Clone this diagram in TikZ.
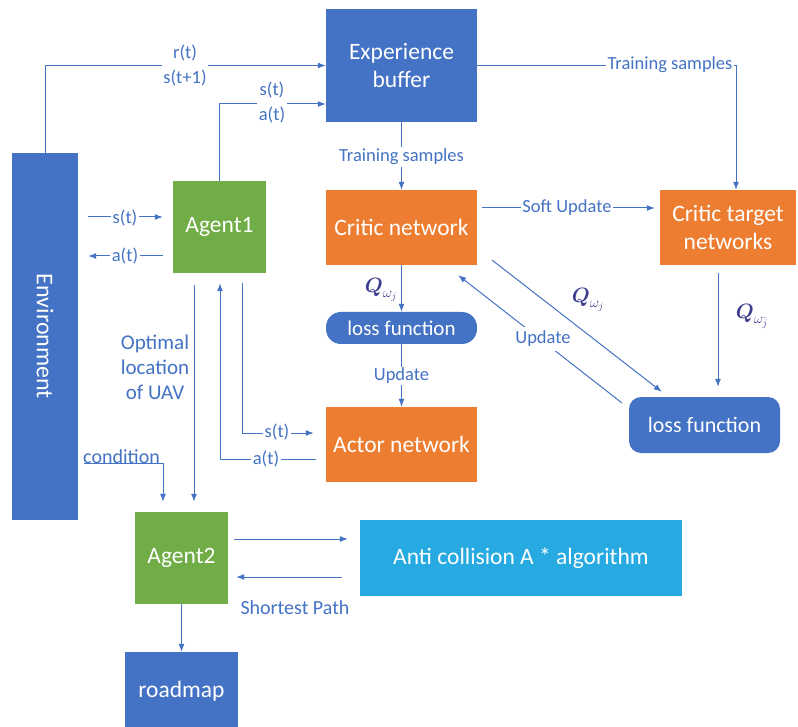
\documentclass[tikz,border=0pt]{standalone}
\usepackage{amsmath}
\usepackage{fontspec}
\setmainfont{Carlito}
\usetikzlibrary{arrows.meta,calc}
\definecolor{dblue}{HTML}{4472C4}
\definecolor{agreen}{HTML}{70AD47}
\definecolor{aorange}{HTML}{ED7D31}
\definecolor{lblue}{HTML}{27AAE1}
\definecolor{qcol}{HTML}{3D3D8F}
\tikzset{
  box/.style={inner sep=0pt, text=white, font=\fontsize{23.5}{28}\selectfont, align=center},
  bluebox/.style={box, fill=dblue},
  greenbox/.style={box, fill=agreen},
  orangebox/.style={box, fill=aorange},
  roundbox/.style={box, fill=dblue, rounded corners=12pt},
  conn/.style={draw=dblue, line width=1pt},
  arr/.style={conn, -{Latex[length=8pt,width=6pt]}},
  lbl/.style={text=dblue, font=\fontsize{18.5}{25}\selectfont, inner sep=1.5pt, align=center},
  wlbl/.style={lbl, fill=white},
  qlbl/.style={text=qcol, font=\fontsize{20}{22}\selectfont, inner sep=1pt}
}
\begin{document}
\begin{tikzpicture}[x=1pt,y=-1pt]
\useasboundingbox (0,0) rectangle (798,727);
% nodes
\node[bluebox, minimum width=151pt, minimum height=113pt] (buf) at (401.5,65.5) {Experience\\buffer};
\node[bluebox, minimum width=66pt, minimum height=367pt] (env) at (45,336.5) {};
\node[text=white, font=\fontsize{24}{29}\selectfont, rotate=-90] (envtxt) at (env.center) {Environment};
\node[greenbox, minimum width=93pt, minimum height=92pt] (agent1) at (219.5,227) {Agent1};
\node[orangebox, minimum width=151pt, minimum height=75pt] (critic) at (401.5,227.5) {Critic network};
\node[orangebox, minimum width=136pt, minimum height=75pt] (ctgt) at (728,227.5) {Critic target\\networks};
\node[roundbox, minimum width=151pt, minimum height=32pt, rounded corners=15pt, font=\fontsize{21}{24}\selectfont] (loss1) at (401.5,328) {loss function};
\node[orangebox, minimum width=151pt, minimum height=75pt] (actor) at (401.5,444.5) {Actor network};
\node[roundbox, minimum width=151pt, minimum height=56pt, font=\fontsize{22}{24}\selectfont] (loss2) at (704.5,425) {loss function};
\node[greenbox, minimum width=93pt, minimum height=92pt] (agent2) at (181.5,558) {Agent2};
\node[box, fill=lblue, minimum width=322pt, minimum height=76pt] (anti) at (521,558) {Anti collision A * algorithm};
\node[bluebox, minimum width=113pt, minimum height=78pt] (road) at (181.5,691) {roadmap};

% connectors
\draw[arr] (env.north) |- (buf.west);
\draw[arr] (agent1.north) |- ([yshift=-38.5pt]buf.west);
\coordinate (s1a) at ([yshift=10pt]agent1.west);
\coordinate (s1e) at (env.east |- s1a);
\draw[arr, shorten <=10pt, shorten >=10pt] (s1e) -- (s1a);
\coordinate (a1a) at ([yshift=-29pt]agent1.west);
\coordinate (a1e) at (env.east |- a1a);
\draw[arr, shorten <=10pt, shorten >=10pt] (a1a) -- (a1e);
\draw[arr] (buf.south) -- (critic.north);
\draw[arr] (buf.east) -| ([xshift=8pt]ctgt.north);
\draw[arr, shorten <=5pt, shorten >=5pt] ([yshift=19.5pt]critic.east) -- ([yshift=19.5pt]ctgt.west);
\draw[arr] (critic.south) -- (loss1.north);
\draw[arr] (loss1.south) -- (actor.north);
\draw[arr, shorten <=8pt, shorten >=10pt] ([xshift=-10pt]ctgt.south) -- ([xshift=-10pt]ctgt.south |- loss2.north);
\draw[arr] ([xshift=15pt,yshift=5pt]critic.south east) -- ([xshift=33pt,yshift=5pt]loss2.north west);
\draw[arr] ([xshift=-7pt,yshift=-6pt]loss2.north west) -- ([xshift=-19pt,yshift=-10pt]critic.south east);
\draw[arr] ([xshift=22.5pt,yshift=-10pt]agent1.south) |- ([xshift=-12pt,yshift=11.5pt]actor.west);
\draw[arr] ([xshift=-10pt,yshift=-14.5pt]actor.west) -| ([xshift=0.5pt,yshift=-10pt]agent1.south);
\coordinate (opt) at ([xshift=-25.5pt,yshift=-12pt]agent1.south);
\draw[arr, shorten >=10pt] (opt) -- (opt |- agent2.north);
\coordinate (cnd) at (84,463);
\draw[arr, shorten >=10pt] (cnd) -| ([xshift=-18.5pt]agent2.north);
\draw[arr, shorten <=6pt, shorten >=12pt] ([yshift=19pt]agent2.east) -- ([yshift=19pt]agent2.east -| anti.west);
\draw[arr, shorten <=18pt, shorten >=8pt] ([yshift=-19pt]agent2.east -| anti.west) -- ([yshift=-19pt]agent2.east);
\draw[arr] (agent2.south) -- (road.north);

% labels
\node[wlbl] (l1) at (185,66) {r(t)\\s(t+1)};
\node[wlbl] (l2) at (272,103) {s(t)\\a(t)};
\node[wlbl] (l3) at (125,218) {s(t)};
\node[wlbl] (l4) at (125,256) {a(t)};
\node[wlbl] (l5) at (401.5,157) {Training samples};
\node[wlbl] (l6) at (670,65) {Training samples};
\node[wlbl] (l7) at (567,208) {Soft Update};
\node[qlbl] (q1) at (381,290) {$\boldsymbol{Q}_{\omega_j}$};
\node[wlbl] (l8) at (401.5,376) {Update};
\node[qlbl] (q2) at (752,316) {$\boldsymbol{Q}_{\omega_{\bar{j}}}$};
\node[qlbl] (q3) at (588,300) {$\boldsymbol{Q}_{\omega_j}$};
\node[wlbl, inner sep=4pt] (l9) at (543,339) {Update};
\node[wlbl] (l10) at (277,432) {s(t)};
\node[wlbl] (l11) at (266,459) {a(t)};
\node[wlbl, font=\fontsize{21}{25}\selectfont] (l12) at (155,367) {Optimal\\location\\of UAV};
\node[lbl, anchor=south west, font=\fontsize{20}{24}\selectfont, inner sep=1pt] (l13) at (82,465) {condition};
\node[lbl, font=\fontsize{20}{24}\selectfont] (l14) at (295,608) {Shortest Path};
\end{tikzpicture}
\end{document}
